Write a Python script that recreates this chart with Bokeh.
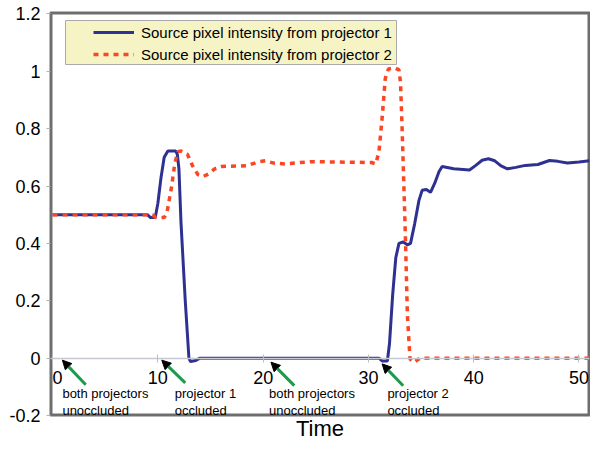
from bokeh.plotting import figure
from bokeh.models import (Range1d, FixedTicker, Legend, LegendItem, Arrow, NormalHead,
                          ColumnDataSource, BoxAnnotation, LinearAxis)
from bokeh.core.properties import value
from bokeh.embed import file_html
from bokeh.resources import INLINE

# ---------------- data ----------------
p1_time = [0, 9.0, 9.3, 9.75, 10.0, 10.3, 10.6, 10.95, 11.7, 11.85, 12.0, 12.2, 12.6,
           12.95, 13.1, 13.6, 14.0, 31.0, 31.3, 31.8, 32.0, 32.3, 32.6, 32.9, 33.3,
           33.7, 34.0, 34.4, 34.8, 35.1, 35.5, 35.9, 36.3, 36.7, 37.0, 38.1, 39.6,
           40.2, 40.8, 41.4, 42.0, 42.6, 43.2, 44.0, 44.9, 46.1, 47.2, 48.0, 48.9,
           50.0, 51.0]
p1_value = [0.5, 0.5, 0.49, 0.49, 0.54, 0.63, 0.70, 0.722, 0.722, 0.71, 0.66, 0.47, 0.2,
            0.0, -0.012, -0.008, 0.0, 0.0, -0.01, -0.01, 0.05, 0.22, 0.35, 0.40, 0.405,
            0.395, 0.40, 0.47, 0.55, 0.585, 0.588, 0.578, 0.61, 0.65, 0.668, 0.66, 0.656,
            0.672, 0.69, 0.695, 0.688, 0.67, 0.66, 0.665, 0.672, 0.675, 0.689, 0.686, 0.68,
            0.684, 0.688]

p2_time = [0, 9.5, 9.8, 10.6, 10.85, 11.3, 11.6, 11.9, 12.2, 12.8, 13.3, 13.8, 14.3,
           14.8, 15.4, 16.0, 18.5, 19.5, 20.2, 21.0, 22.1, 23.5, 24.6, 30.3, 30.7,
           31.0, 31.3, 31.6, 31.9, 32.5, 32.9, 33.05, 33.2, 33.5, 33.7, 33.95, 34.3,
           34.9, 51.0]
p2_value = [0.5, 0.5, 0.49, 0.49, 0.505, 0.597, 0.677, 0.72, 0.722, 0.711, 0.67, 0.64, 0.633,
            0.642, 0.66, 0.668, 0.671, 0.684, 0.688, 0.68, 0.677, 0.682, 0.685, 0.682, 0.677,
            0.72, 0.837, 0.975, 1.008, 1.012, 1.005, 0.96, 0.80, 0.44, 0.15, -0.003, -0.015,
            0.0, 0.0]

series_labels = ["Source pixel intensity from projector 1",
                 "Source pixel intensity from projector 2"]

x_ticks = [0, 10, 20, 30, 40, 50]
x_tick_labels = ["\u00a0\u00a00", "10", "20", "30", "40", "50"]
y_ticks = [-0.2, 0, 0.2, 0.4, 0.6, 0.8, 1, 1.2]
y_tick_labels = ["-0.2", "0", "0.2", "0.4", "0.6", "0.8", "1", "1.2"]
x_title = "Time"

ann_text = ["both projectors\nunoccluded", "projector 1\noccluded",
            "both projectors\nunoccluded", "projector 2\noccluded"]
ann_text_x = [0.93, 11.6, 20.55, 31.8]
ann_text_y = [-0.097, -0.097, -0.097, -0.097]
arrow_tip_x = [0.93, 10.37, 20.74, 31.3]
arrow_tip_y = [-0.007, -0.007, -0.014, -0.02]
arrow_tail_x = [3.15, 12.6, 22.96, 33.3]
arrow_tail_y = [-0.093, -0.086, -0.096, -0.096]

# ---------------- figure ----------------
FONT = "Liberation Sans"
W, H = 590, 443
MB_L, MB_R, MB_T, MB_B = 50, 1, 12, 28
FH = H - MB_T - MB_B
X0, X1 = -0.2, 51
Y0, Y1 = -0.2, 1.205

p = figure(width=W, height=H, output_backend="svg", toolbar_location=None,
           x_range=Range1d(X0, X1), y_range=Range1d(Y0, Y1),
           min_border_left=MB_L, min_border_right=MB_R, min_border_top=MB_T,
           min_border_bottom=MB_B)
p.background_fill_color = "white"
p.border_fill_color = "white"
p.outline_line_color = "#6e6e6e"
p.outline_line_width = 2
p.outline_line_alpha = 1.0
p.xgrid.visible = False
p.ygrid.visible = False

# x axis drawn at y = 0
xa = p.xaxis[0]
xa.fixed_location = 0
xa.ticker = FixedTicker(ticks=x_ticks)
xa.major_label_overrides = dict(zip(x_ticks, x_tick_labels))
xa.axis_line_color = "#c8c8d2"
xa.axis_line_width = 1.5
xa.major_tick_in = 4
xa.major_tick_out = 4
xa.major_tick_line_color = "#bdbdbd"
xa.minor_tick_line_color = None
xa.major_label_standoff = 6
xa.major_label_text_font = FONT
xa.major_label_text_font_size = "18px"
xa.major_label_text_color = "black"

# axis below the frame carrying only the title
ta = LinearAxis(ticker=FixedTicker(ticks=[]), axis_label=x_title,
                axis_line_color=None, major_tick_line_color=None,
                minor_tick_line_color=None, major_label_text_font_size="0px",
                axis_label_standoff=0, axis_label_text_font=FONT,
                axis_label_text_font_size="22px", axis_label_text_font_style="normal",
                axis_label_text_color="black")
p.add_layout(ta, "below")

ya = p.yaxis[0]
ya.ticker = FixedTicker(ticks=y_ticks)
ya.major_label_overrides = dict(zip(y_ticks, y_tick_labels))
ya.axis_line_color = None
ya.major_tick_in = 0
ya.major_tick_out = 4
ya.major_tick_line_color = "#b0b0b0"
ya.minor_tick_line_color = None
ya.major_label_standoff = 6
ya.major_label_text_font = FONT
ya.major_label_text_font_size = "18px"
ya.major_label_text_color = "black"

# frame border drawn as a quad on the range bounds (clipped to the frame)
p.quad(left=[X0], right=[X1], bottom=[Y0], top=[Y1], fill_alpha=0,
       line_color="#6e6e6e", line_width=4)

r1 = p.line(p1_time, p1_value, line_color="#2e3192", line_width=3)
r2 = p.line(p2_time, p2_value, line_color="#fa4624", line_width=3.5, line_dash="5 5")

# legend background box (canvas pixels)
box = BoxAnnotation(left=MB_L + 15, right=MB_L + 346, top=MB_T + 8, bottom=MB_T + 52,
                    left_units="canvas", right_units="canvas",
                    top_units="canvas", bottom_units="canvas",
                    fill_color="#f6f3c4", fill_alpha=1.0,
                    line_color="#aaaaaa", line_alpha=1.0, line_width=1)
p.add_layout(box)

legend = Legend(items=[LegendItem(label=series_labels[0], renderers=[r1]),
                       LegendItem(label=series_labels[1], renderers=[r2])],
                location=(43, FH - 52),
                background_fill_alpha=0, border_line_color=None,
                padding=1, spacing=2, margin=0,
                label_height=20, glyph_height=20, glyph_width=41, label_standoff=7,
                label_text_font=FONT, label_text_font_size="15px",
                label_text_color="black")
p.add_layout(legend)

# annotations
arrows = ColumnDataSource(dict(xs=arrow_tail_x, ys=arrow_tail_y,
                               xe=arrow_tip_x, ye=arrow_tip_y))
p.add_layout(Arrow(end=NormalHead(size=9, fill_color="black", line_color="black"),
                   x_start="xs", y_start="ys", x_end="xe", y_end="ye",
                   source=arrows, line_color="#1d9a4c", line_width=3))

p.text(x=ann_text_x, y=ann_text_y, text=ann_text, text_font=value(FONT),
       text_font_size="13px", text_align="left", text_baseline="top",
       text_line_height=1.15, text_color="black")

open("out.html", "w").write(file_html(p, INLINE))
